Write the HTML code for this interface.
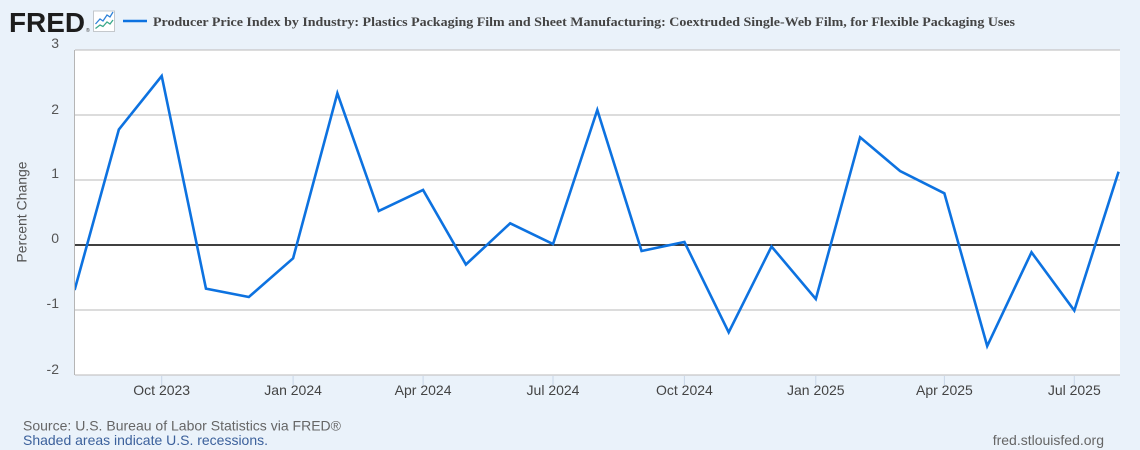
<!DOCTYPE html>
<html>
<head>
<meta charset="utf-8">
<style>
  html,body{margin:0;padding:0;background:#eaf2fa;}
  body{width:1140px;height:450px;overflow:hidden;}
  svg{display:block;}
</style>
</head>
<body>
<svg width="1140" height="450" viewBox="0 0 1140 450" xmlns="http://www.w3.org/2000/svg">
  <rect x="0" y="0" width="1140" height="450" fill="#eaf2fa"/>
  <!-- FRED logo -->
  <text x="9" y="32" font-family="Liberation Sans, Arial, sans-serif" font-weight="bold" font-size="28" fill="#1d1d1d" textLength="76" lengthAdjust="spacingAndGlyphs">FRED</text>
  <text x="86" y="32" font-family="Liberation Sans, Arial, sans-serif" font-size="5" fill="#333">®</text>
  <rect x="93.5" y="11" width="21" height="20.5" fill="#ffffff" stroke="#c4c8cc" stroke-width="1"/>
  <polyline points="95.5,24 100,19 103,21 107,15 110,17 113,12" fill="none" stroke="#2f82d8" stroke-width="1.3"/>
  <polyline points="95.5,28.5 100,25 103,26.5 107,22 110,24 113,20" fill="none" stroke="#3aa88a" stroke-width="1.3"/>
  <!-- Legend -->
  <line x1="123" y1="21" x2="147" y2="21" stroke="#0d72e0" stroke-width="2.5"/>
  <text x="153" y="26" font-family="Liberation Serif, 'Times New Roman', serif" font-weight="bold" font-size="13" fill="#444" textLength="862" lengthAdjust="spacingAndGlyphs">Producer Price Index by Industry: Plastics Packaging Film and Sheet Manufacturing: Coextruded Single-Web Film, for Flexible Packaging Uses</text>

  <!-- Plot area -->
  <rect x="75" y="50" width="1045" height="325" fill="#ffffff"/>
  <g stroke="#c6c6c6" stroke-width="1.3">
    <line x1="75" y1="50" x2="1120" y2="50"/>
    <line x1="75" y1="115" x2="1120" y2="115"/>
    <line x1="75" y1="180" x2="1120" y2="180"/>
    <line x1="75" y1="310" x2="1120" y2="310"/>
  </g>
  <line x1="75" y1="375" x2="1120" y2="375" stroke="#c6c6c6" stroke-width="1.3"/>
  <line x1="74.5" y1="50" x2="74.5" y2="375" stroke="#b5b5b5" stroke-width="1"/>
  <line x1="75" y1="245" x2="1120" y2="245" stroke="#000" stroke-width="1.6"/>

  <!-- x ticks -->
  <g stroke="#c8d6e8" stroke-width="1">
    <line x1="161.7" y1="376" x2="161.7" y2="385"/>
    <line x1="293.1" y1="376" x2="293.1" y2="385"/>
    <line x1="423.1" y1="376" x2="423.1" y2="385"/>
    <line x1="553" y1="376" x2="553" y2="385"/>
    <line x1="684.4" y1="376" x2="684.4" y2="385"/>
    <line x1="815.8" y1="376" x2="815.8" y2="385"/>
    <line x1="944.4" y1="376" x2="944.4" y2="385"/>
    <line x1="1074.3" y1="376" x2="1074.3" y2="385"/>
  </g>

  <!-- Series -->
  <clipPath id="pc"><rect x="75" y="45" width="1045" height="335"/></clipPath>
  <polyline clip-path="url(#pc)" fill="none" stroke="#0d72e0" stroke-width="2.6" stroke-linejoin="miter"
    points="74.6,290 118.85,129.5 161.7,76 205.97,288.7 248.82,297 293.09,258.3 337.37,93.3 378.79,211 423.06,190 465.9,264.5 510.18,223.3 553.03,244 597.3,110 641.58,251 684.42,242 728.7,332.3 771.54,246.5 815.82,299 860.09,137.3 900.08,171 944.36,193.3 987.2,346 1031.5,252.3 1074.3,310.5 1118.6,171.7"/>

  <!-- Y labels -->
  <g font-family="Liberation Sans, Arial, sans-serif" font-size="14" fill="#555" text-anchor="end">
    <text x="59" y="48">3</text>
    <text x="59" y="114">2</text>
    <text x="59" y="178">1</text>
    <text x="59" y="243">0</text>
    <text x="59" y="308">-1</text>
    <text x="59" y="374">-2</text>
  </g>
  <text transform="translate(26.5,212) rotate(-90)" font-family="Liberation Sans, Arial, sans-serif" font-size="14" fill="#555" text-anchor="middle">Percent Change</text>

  <!-- X labels -->
  <g font-family="Liberation Sans, Arial, sans-serif" font-size="14" fill="#444" text-anchor="middle">
    <text x="161.7" y="395">Oct 2023</text>
    <text x="293.1" y="395">Jan 2024</text>
    <text x="423.1" y="395">Apr 2024</text>
    <text x="553" y="395">Jul 2024</text>
    <text x="684.4" y="395">Oct 2024</text>
    <text x="815.8" y="395">Jan 2025</text>
    <text x="944.4" y="395">Apr 2025</text>
    <text x="1074.3" y="395">Jul 2025</text>
  </g>

  <!-- Footer -->
  <text x="23" y="430.5" font-family="Liberation Sans, Arial, sans-serif" font-size="14" fill="#666" textLength="318" lengthAdjust="spacingAndGlyphs">Source: U.S. Bureau of Labor Statistics via FRED®</text>
  <text x="23" y="445" font-family="Liberation Sans, Arial, sans-serif" font-size="14" fill="#3c619c" textLength="245" lengthAdjust="spacingAndGlyphs">Shaded areas indicate U.S. recessions.</text>
  <text x="1104" y="445" font-family="Liberation Sans, Arial, sans-serif" font-size="14" fill="#666" text-anchor="end">fred.stlouisfed.org</text>
</svg>
</body>
</html>
